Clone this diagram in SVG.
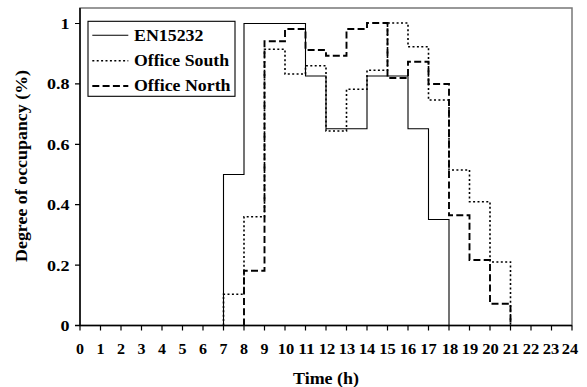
<svg xmlns="http://www.w3.org/2000/svg" width="587" height="387" viewBox="0 0 587 387">
<style>
text{font-family:"Liberation Serif","Times New Roman",serif;font-weight:bold;fill:#000}
.tk{font-size:15px}
.xl{text-anchor:middle}
.yl{text-anchor:end}
.lg{font-size:16px}
.ttl{font-size:16px;text-anchor:middle}
.tick{stroke:#000;stroke-width:1.2;fill:none}
.s{fill:none;stroke:#000;stroke-width:1.1}
.d{fill:none;stroke:#000;stroke-width:1.6;stroke-dasharray:2,2.4}
.n{fill:none;stroke:#000;stroke-width:1.9;stroke-dasharray:7,3.3}
</style>
<rect width="587" height="387" fill="#fff"/>
<g id="plot-frame">
<rect x="80" y="8" width="492" height="317.5" fill="none" stroke="#777" stroke-width="1.5"/>
<line x1="80" y1="8" x2="80" y2="325.5" stroke="#000" stroke-width="1.5"/>
<line x1="75" y1="325.5" x2="572" y2="325.5" stroke="#000" stroke-width="1.5"/>
</g>
<g id="y-axis">
<path class="tick" d="M75,265.1H80M75,204.7H80M75,144.3H80M75,83.9H80M75,23.5H80"/>
<text class="tk yl" x="69.5" y="331" textLength="9" lengthAdjust="spacingAndGlyphs">0</text>
<text class="tk yl" x="69.5" y="270.6" textLength="22.5" lengthAdjust="spacingAndGlyphs">0.2</text>
<text class="tk yl" x="69.5" y="210.2" textLength="22.5" lengthAdjust="spacingAndGlyphs">0.4</text>
<text class="tk yl" x="69.5" y="149.8" textLength="22.5" lengthAdjust="spacingAndGlyphs">0.6</text>
<text class="tk yl" x="69.5" y="89.4" textLength="22.5" lengthAdjust="spacingAndGlyphs">0.8</text>
<text class="tk yl" x="69.5" y="29" textLength="9" lengthAdjust="spacingAndGlyphs">1</text>
<text class="ttl" transform="translate(26.5,166) rotate(-90)" x="0" y="0" textLength="192" lengthAdjust="spacingAndGlyphs">Degree of occupancy (%)</text>
</g>
<g id="x-axis">
<path class="tick" d="M80,325.5V330.5M100.5,325.5V330.5M121,325.5V330.5M141.5,325.5V330.5M162,325.5V330.5M182.5,325.5V330.5M203,325.5V330.5M223.5,325.5V330.5M244,325.5V330.5M264.5,325.5V330.5M285,325.5V330.5M305.5,325.5V330.5M326,325.5V330.5M346.5,325.5V330.5M367,325.5V330.5M387.5,325.5V330.5M408,325.5V330.5M428.5,325.5V330.5M449,325.5V330.5M469.5,325.5V330.5M490,325.5V330.5M510.5,325.5V330.5M531,325.5V330.5M551.5,325.5V330.5M572,325.5V330.5"/>
<text class="tk xl" x="80" y="354" textLength="8" lengthAdjust="spacingAndGlyphs">0</text>
<text class="tk xl" x="100.5" y="354" textLength="8" lengthAdjust="spacingAndGlyphs">1</text>
<text class="tk xl" x="121" y="354" textLength="8" lengthAdjust="spacingAndGlyphs">2</text>
<text class="tk xl" x="141.5" y="354" textLength="8" lengthAdjust="spacingAndGlyphs">3</text>
<text class="tk xl" x="162" y="354" textLength="8" lengthAdjust="spacingAndGlyphs">4</text>
<text class="tk xl" x="182.5" y="354" textLength="8" lengthAdjust="spacingAndGlyphs">5</text>
<text class="tk xl" x="203" y="354" textLength="8" lengthAdjust="spacingAndGlyphs">6</text>
<text class="tk xl" x="223.5" y="354" textLength="8" lengthAdjust="spacingAndGlyphs">7</text>
<text class="tk xl" x="244" y="354" textLength="8" lengthAdjust="spacingAndGlyphs">8</text>
<text class="tk xl" x="264.5" y="354" textLength="8" lengthAdjust="spacingAndGlyphs">9</text>
<text class="tk xl" x="286" y="354" textLength="16.5" lengthAdjust="spacingAndGlyphs">10</text>
<text class="tk xl" x="306.5" y="354" textLength="16.5" lengthAdjust="spacingAndGlyphs">11</text>
<text class="tk xl" x="327" y="354" textLength="16.5" lengthAdjust="spacingAndGlyphs">12</text>
<text class="tk xl" x="347" y="354" textLength="16.5" lengthAdjust="spacingAndGlyphs">13</text>
<text class="tk xl" x="367" y="354" textLength="16.5" lengthAdjust="spacingAndGlyphs">14</text>
<text class="tk xl" x="387.5" y="354" textLength="16.5" lengthAdjust="spacingAndGlyphs">15</text>
<text class="tk xl" x="408" y="354" textLength="16.5" lengthAdjust="spacingAndGlyphs">16</text>
<text class="tk xl" x="428.5" y="354" textLength="16.5" lengthAdjust="spacingAndGlyphs">17</text>
<text class="tk xl" x="450" y="354" textLength="16.5" lengthAdjust="spacingAndGlyphs">18</text>
<text class="tk xl" x="470" y="354" textLength="16.5" lengthAdjust="spacingAndGlyphs">19</text>
<text class="tk xl" x="490.5" y="354" textLength="16.5" lengthAdjust="spacingAndGlyphs">20</text>
<text class="tk xl" x="511" y="354" textLength="16.5" lengthAdjust="spacingAndGlyphs">21</text>
<text class="tk xl" x="531" y="354" textLength="16.5" lengthAdjust="spacingAndGlyphs">22</text>
<text class="tk xl" x="551" y="354" textLength="16.5" lengthAdjust="spacingAndGlyphs">23</text>
<text class="tk xl" x="570" y="354" textLength="16.5" lengthAdjust="spacingAndGlyphs">24</text>
<text class="ttl" x="326" y="384" textLength="66" lengthAdjust="spacingAndGlyphs">Time (h)</text>
</g>
<g id="series">
<path id="en15232" class="s" d="M223.5,325.5V174.5H244V23.5H305.5V76H326V128.8H367V76H408V128.8H428.5V219.5H449V325.5"/>
<path id="office-south" class="d" d="M223.5,325.5V294.3H244V216.7H264.5V49.3H285V74H305.5V65.7H326V131H346.5V89.3H367V70.3H387.5V23H408V46.7H428.5V100H449V170H469.5V201.7H490V262H510.5V325.5"/>
<path id="office-north" class="n" d="M244,325.5V270.7H264.5V41.3H285V29H305.5V50H326V55.7H346.5V29H367V23H387.5V78H408V61.7H428.5V84H449V215.3H469.5V260H490V303.7H510.5V325.5"/>
</g>
<g id="legend">
<rect x="88" y="21.3" width="147" height="75" fill="#fff" stroke="#000" stroke-width="1.1"/>
<line class="s" x1="92.3" y1="35.3" x2="128.3" y2="35.3"/>
<line class="d" x1="92.3" y1="60.7" x2="128.3" y2="60.7"/>
<line class="n" x1="92.3" y1="86" x2="128.3" y2="86"/>
<text class="lg" x="134" y="41" textLength="69.5" lengthAdjust="spacingAndGlyphs">EN15232</text>
<text class="lg" x="134" y="65.7" textLength="95" lengthAdjust="spacingAndGlyphs">Office South</text>
<text class="lg" x="134" y="90.6" textLength="96.5" lengthAdjust="spacingAndGlyphs">Office North</text>
</g>
</svg>
